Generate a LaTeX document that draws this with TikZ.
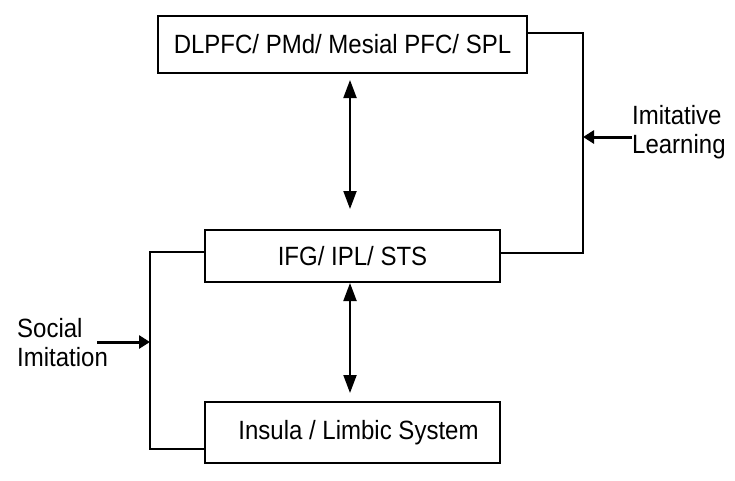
\documentclass[tikz,border=0pt]{standalone}
\usepackage{fontspec}
\setmainfont{Liberation Sans}
\usetikzlibrary{arrows.meta}
\newcommand\talltext[1]{\scalebox{1}[1.1]{#1}}
\begin{document}
\begin{tikzpicture}[x=1pt,y=-1pt,
  box/.style={draw, line width=1.8pt, inner sep=0pt, font=\fontsize{24}{29}\selectfont},
  lbl/.style={inner sep=0pt, anchor=west, font=\fontsize{24}{26.5}\selectfont},
  link/.style={line width=1.5pt},
  dbl/.style={line width=2pt, {Triangle[length=18pt,width=13pt]}-{Triangle[length=18pt,width=13pt]}},
  inarrow/.style={line width=3pt, -{Triangle[length=11pt,width=13pt]}}
]
\useasboundingbox (0,0) rectangle (735,480);
\node[box, minimum width=369pt, minimum height=57pt] (top) at (342.5,44.5) {\talltext{DLPFC/ PMd/ Mesial PFC/ SPL}};
\node[box, minimum width=295pt, minimum height=52pt] (ifg) at (352.5,256) {\talltext{IFG/ IPL/ STS}};
\node[box, minimum width=295pt, minimum height=61pt] (ins) at (352.5,432.5) {\hspace*{12pt}\talltext{Insula / Limbic System}};
\node[lbl] (soc) at (17,346) {\talltext{\begin{tabular}{@{}l@{}}Social\\Imitation\end{tabular}}};
\node[lbl] (imi) at (632,133) {\talltext{\begin{tabular}{@{}l@{}}Imitative\\Learning\end{tabular}}};
\coordinate (rt) at (583,33);
\coordinate (rb) at (583,253);
\coordinate (lt) at (150,252);
\coordinate (lb) at (150,449);
\coordinate (a1t) at (350,80);
\coordinate (a1b) at (350,209);
\coordinate (a2t) at (350,283);
\coordinate (a2b) at (350,393);
\coordinate (sa) at (150,342);
\coordinate (ia) at (583,137);
\draw[link] (rt -| top.east) -- (rt) -- (rb) -- (rb -| ifg.east);
\draw[link] (lt -| ifg.west) -- (lt) -- (lb) -- (lb -| ins.west);
\draw[dbl] (a1t) -- (a1b);
\draw[dbl] (a2t) -- (a2b);
\draw[inarrow] (97,342) coordinate (s0) -- (sa);
\draw[inarrow] (632,137) coordinate (i0) -- (ia);
\end{tikzpicture}
\end{document}
